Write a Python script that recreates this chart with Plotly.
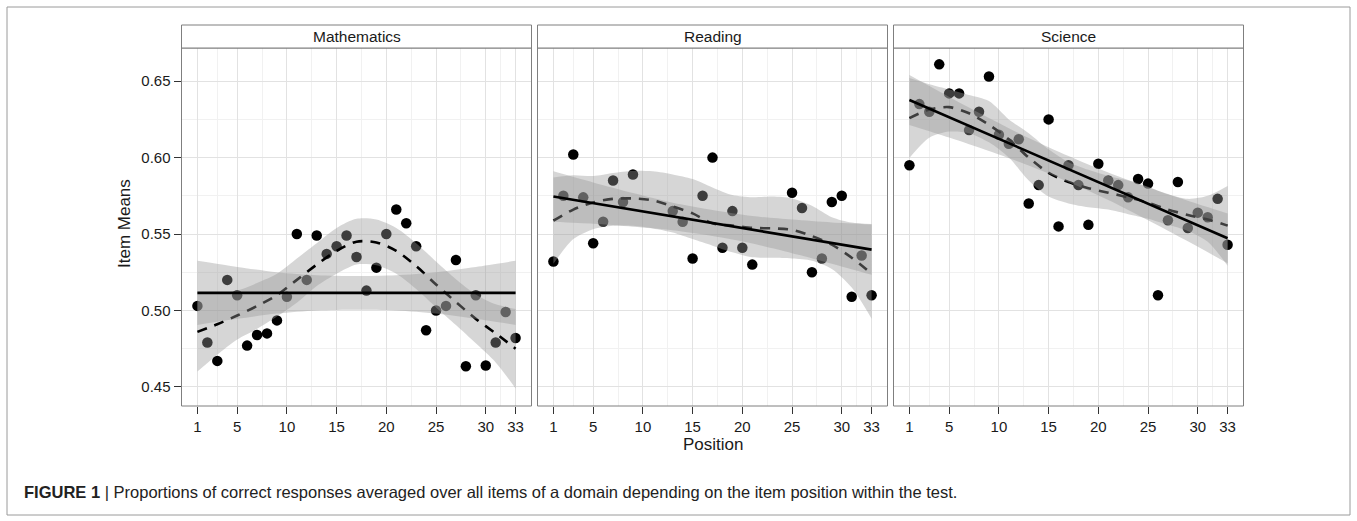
import plotly.graph_objects as go

# ---------------- data ----------------
panels = ["Mathematics", "Reading", "Science"]

math_pos = list(range(1, 34))
math_mean = [0.503, 0.479, 0.467, 0.520, 0.510, 0.477, 0.484, 0.485, 0.4935, 0.509,
             0.550, 0.520, 0.549, 0.537, 0.542, 0.549, 0.535, 0.513, 0.528, 0.550,
             0.566, 0.557, 0.542, 0.487, 0.500, 0.503, 0.533, 0.4635, 0.510, 0.464,
             0.479, 0.499, 0.482]

reading_pos = [1, 2, 3, 4, 5, 6, 7, 8, 9, 13, 14, 15, 16, 17, 18, 19, 20, 21,
               25, 26, 27, 28, 29, 30, 31, 32, 33]
reading_mean = [0.532, 0.575, 0.602, 0.574, 0.544, 0.558, 0.585, 0.571, 0.589,
                0.565, 0.558, 0.534, 0.575, 0.600, 0.541, 0.565, 0.541, 0.530,
                0.577, 0.567, 0.525, 0.534, 0.571, 0.575, 0.509, 0.536, 0.510]

science_pos = list(range(1, 34))
science_mean = [0.595, 0.635, 0.630, 0.661, 0.642, 0.642, 0.618, 0.630, 0.653, 0.615,
                0.609, 0.612, 0.570, 0.582, 0.625, 0.555, 0.595, 0.582, 0.556, 0.596,
                0.585, 0.582, 0.574, 0.586, 0.583, 0.510, 0.559, 0.584, 0.554, 0.564,
                0.561, 0.573, 0.543]

# linear fit (solid) with confidence band, read at knots
lm_x = [1, 5, 9, 13, 17, 21, 25, 29, 33]
math_lm = [0.5115, 0.5115, 0.5115, 0.5115, 0.5115, 0.5115, 0.5115, 0.5115, 0.5115]
math_lm_lo = [0.4905, 0.4945, 0.4980, 0.5000, 0.5005, 0.5000, 0.4980, 0.4945, 0.4905]
math_lm_hi = [0.5325, 0.5285, 0.5250, 0.5230, 0.5225, 0.5230, 0.5250, 0.5285, 0.5325]

reading_lm = [0.5745, 0.5702, 0.5658, 0.5615, 0.5572, 0.5528, 0.5485, 0.5441, 0.5398]
reading_lm_lo = [0.5580, 0.5567, 0.5548, 0.5525, 0.5487, 0.5438, 0.5375, 0.5306, 0.5233]
reading_lm_hi = [0.5910, 0.5837, 0.5768, 0.5705, 0.5657, 0.5618, 0.5595, 0.5576, 0.5563]

science_lm = [0.6377, 0.6264, 0.6151, 0.6038, 0.5925, 0.5812, 0.5698, 0.5585, 0.5472]
science_lm_lo = [0.6214, 0.6131, 0.6043, 0.5948, 0.5840, 0.5722, 0.5590, 0.5452, 0.5309]
science_lm_hi = [0.6540, 0.6397, 0.6259, 0.6128, 0.6010, 0.5902, 0.5806, 0.5718, 0.5635]

# loess fit (dashed) with confidence band, read at knots
lo_x = [1, 3, 5, 7, 9, 11, 13, 15, 17, 19, 21, 23, 25, 27, 29, 31, 33]
math_loess = [0.486, 0.491, 0.4967, 0.503, 0.510, 0.520, 0.530, 0.539, 0.545, 0.5445,
              0.539, 0.529, 0.517, 0.5055, 0.4945, 0.485, 0.475]
math_loess_lo = [0.460, 0.471, 0.481, 0.488, 0.496, 0.505, 0.516, 0.524, 0.530, 0.5295,
                 0.524, 0.514, 0.502, 0.4905, 0.4785, 0.466, 0.449]
math_loess_hi = [0.512, 0.511, 0.513, 0.518, 0.524, 0.534, 0.544, 0.554, 0.560, 0.5595,
                 0.554, 0.544, 0.532, 0.5205, 0.5105, 0.504, 0.501]

reading_loess = [0.5587, 0.566, 0.5707, 0.573, 0.5733, 0.572, 0.568, 0.5635, 0.557, 0.5555,
                 0.554, 0.5537, 0.5528, 0.5487, 0.543, 0.5345, 0.524]
reading_loess_lo = [0.5305, 0.5467, 0.5532, 0.5554, 0.5554, 0.5537, 0.551, 0.5467, 0.5424,
                    0.538, 0.5348, 0.5345, 0.534, 0.5326, 0.5272, 0.515, 0.4946]
reading_loess_hi = [0.587, 0.5885, 0.588, 0.590, 0.5913, 0.591, 0.589, 0.586, 0.5805,
                    0.5755, 0.574, 0.5745, 0.5733, 0.5685, 0.561, 0.5575, 0.5565]

science_loess = [0.6258, 0.6315, 0.633, 0.629, 0.6215, 0.612, 0.600, 0.590, 0.584, 0.580,
                 0.577, 0.574, 0.5705, 0.566, 0.5625, 0.5595, 0.5555]
science_loess_lo = [0.5998, 0.613, 0.617, 0.616, 0.610, 0.600, 0.585, 0.5745, 0.570, 0.5675,
                    0.566, 0.563, 0.560, 0.556, 0.552, 0.545, 0.5293]
science_loess_hi = [0.652, 0.648, 0.6446, 0.641, 0.637, 0.625, 0.616, 0.6054, 0.597, 0.592,
                    0.588, 0.585, 0.581, 0.576, 0.573, 0.575, 0.5814]

x_ticks = [1, 5, 10, 15, 20, 25, 30, 33]
x_minor = [3, 7.5, 12.5, 17.5, 22.5, 27.5, 31.5]
y_ticks = [0.45, 0.50, 0.55, 0.60, 0.65]
y_tick_text = ["0.45", "0.50", "0.55", "0.60", "0.65"]
y_minor = [0.475, 0.525, 0.575, 0.625]

caption = ("<b>FIGURE 1</b> | Proportions of correct responses averaged over all items "
           "of a domain depending on the item position within the test.")

# ---------------- layout geometry ----------------
W, H = 1357, 521
FONT = "Liberation Sans, Arial, sans-serif"
panel_px = [(181.5, 531.5), (537.5, 887.5), (893.5, 1243.5)]
panel_top, panel_bot = 48, 406
strip_top = 25


def px(x):
    return x / W


def py(y):
    return 1 - y / H


band_fill = "rgba(153,153,153,0.4)"

fig = go.Figure()

series = [
    (math_pos, math_mean, math_lm, math_lm_lo, math_lm_hi,
     math_loess, math_loess_lo, math_loess_hi),
    (reading_pos, reading_mean, reading_lm, reading_lm_lo, reading_lm_hi,
     reading_loess, reading_loess_lo, reading_loess_hi),
    (science_pos, science_mean, science_lm, science_lm_lo, science_lm_hi,
     science_loess, science_loess_lo, science_loess_hi),
]

for i, (pos, mean, lm, lml, lmh, lo, lol, loh) in enumerate(series):
    xa = "x" if i == 0 else f"x{i+1}"
    ya = "y" if i == 0 else f"y{i+1}"
    # points
    fig.add_trace(go.Scatter(x=pos, y=mean, mode="markers", xaxis=xa, yaxis=ya,
                             marker=dict(color="black", size=10.5, line=dict(width=0)),
                             showlegend=False, hoverinfo="skip"))
    # loess band + dashed line
    fig.add_trace(go.Scatter(x=lo_x, y=loh, mode="lines", xaxis=xa, yaxis=ya,
                             line=dict(width=0, shape="spline", smoothing=0.8),
                             showlegend=False, hoverinfo="skip"))
    fig.add_trace(go.Scatter(x=lo_x, y=lol, mode="lines", xaxis=xa, yaxis=ya,
                             line=dict(width=0, shape="spline", smoothing=0.8),
                             fill="tonexty", fillcolor=band_fill,
                             showlegend=False, hoverinfo="skip"))
    fig.add_trace(go.Scatter(x=lo_x, y=lo, mode="lines", xaxis=xa, yaxis=ya,
                             line=dict(color="black", width=2.6, dash="10px,8px",
                                       shape="spline", smoothing=0.8),
                             showlegend=False, hoverinfo="skip"))
    # linear band + solid line
    fig.add_trace(go.Scatter(x=lm_x, y=lmh, mode="lines", xaxis=xa, yaxis=ya,
                             line=dict(width=0, shape="spline", smoothing=0.8),
                             showlegend=False, hoverinfo="skip"))
    fig.add_trace(go.Scatter(x=lm_x, y=lml, mode="lines", xaxis=xa, yaxis=ya,
                             line=dict(width=0, shape="spline", smoothing=0.8),
                             fill="tonexty", fillcolor=band_fill,
                             showlegend=False, hoverinfo="skip"))
    fig.add_trace(go.Scatter(x=lm_x, y=lm, mode="lines", xaxis=xa, yaxis=ya,
                             line=dict(color="black", width=2.6),
                             showlegend=False, hoverinfo="skip"))

layout = dict(
    width=W, height=H,
    margin=dict(l=0, r=0, t=0, b=0),
    paper_bgcolor="white", plot_bgcolor="white",
    showlegend=False,
    font=dict(family=FONT, color="#1a1a1a", size=15),
)

shapes = []
annotations = []
for i, (l, r) in enumerate(panel_px):
    sfx = "" if i == 0 else str(i + 1)
    layout["xaxis" + sfx] = dict(
        domain=[px(l), px(r)], range=[-0.6, 34.6], anchor="y" + sfx,
        tickmode="array", tickvals=x_ticks, ticktext=[str(t) for t in x_ticks],
        ticks="outside", ticklen=7, tickwidth=1.2, tickcolor="#333333",
        showgrid=True, gridcolor="#e2e2e2", gridwidth=1,
        minor=dict(tickvals=x_minor, showgrid=True, gridcolor="#f1f1f1", gridwidth=1,
                   ticks=""),
        zeroline=False, showline=False,
        tickfont=dict(family=FONT, size=15, color="#1a1a1a"),
        fixedrange=True,
    )
    layout["yaxis" + sfx] = dict(
        domain=[py(panel_bot), py(panel_top)], range=[0.4375, 0.6717],
        anchor="x" + sfx,
        tickmode="array", tickvals=y_ticks, ticktext=y_tick_text,
        ticks="outside" if i == 0 else "", ticklen=7, tickwidth=1.2, tickcolor="#333333",
        showticklabels=(i == 0),
        showgrid=True, gridcolor="#e2e2e2", gridwidth=1,
        minor=dict(tickvals=y_minor, showgrid=True, gridcolor="#f1f1f1", gridwidth=1,
                   ticks=""),
        zeroline=False, showline=False,
        tickfont=dict(family=FONT, size=15, color="#1a1a1a"),
        fixedrange=True,
    )
    # panel border
    shapes.append(dict(type="rect", xref="paper", yref="paper",
                       x0=px(l), x1=px(r), y0=py(panel_bot), y1=py(panel_top),
                       line=dict(color="#7f7f7f", width=1), fillcolor="rgba(0,0,0,0)",
                       layer="above"))
    # strip
    shapes.append(dict(type="rect", xref="paper", yref="paper",
                       x0=px(l), x1=px(r), y0=py(panel_top), y1=py(strip_top),
                       line=dict(color="#7f7f7f", width=1), fillcolor="white"))
    annotations.append(dict(text=panels[i], xref="paper", yref="paper",
                            x=px((l + r) / 2), y=py((strip_top + panel_top) / 2),
                            xanchor="center", yanchor="middle", showarrow=False,
                            font=dict(family=FONT, size=15.5, color="#1a1a1a")))

# outer frame of the figure
shapes.append(dict(type="rect", xref="paper", yref="paper",
                   x0=px(7), x1=px(1350), y0=py(515), y1=py(7),
                   line=dict(color="#9a9a9a", width=1), fillcolor="rgba(0,0,0,0)"))

annotations.append(dict(text="Position", xref="paper", yref="paper",
                        x=px(712.5), y=py(444), xanchor="center", yanchor="middle",
                        showarrow=False, font=dict(family=FONT, size=17, color="#1a1a1a")))
annotations.append(dict(text="Item Means", xref="paper", yref="paper",
                        x=px(125), y=py(224), xanchor="center", yanchor="middle",
                        textangle=-90, showarrow=False,
                        font=dict(family=FONT, size=17, color="#1a1a1a")))
annotations.append(dict(text=caption, xref="paper", yref="paper",
                        x=px(22), y=py(492), xanchor="left", yanchor="middle",
                        showarrow=False, font=dict(family=FONT, size=16.5, color="#222222")))

layout["shapes"] = shapes
layout["annotations"] = annotations
fig.update_layout(**layout)

fig.write_html("out.html", config={"displayModeBar": False},
               post_script="document.body.style.margin='0px';")
